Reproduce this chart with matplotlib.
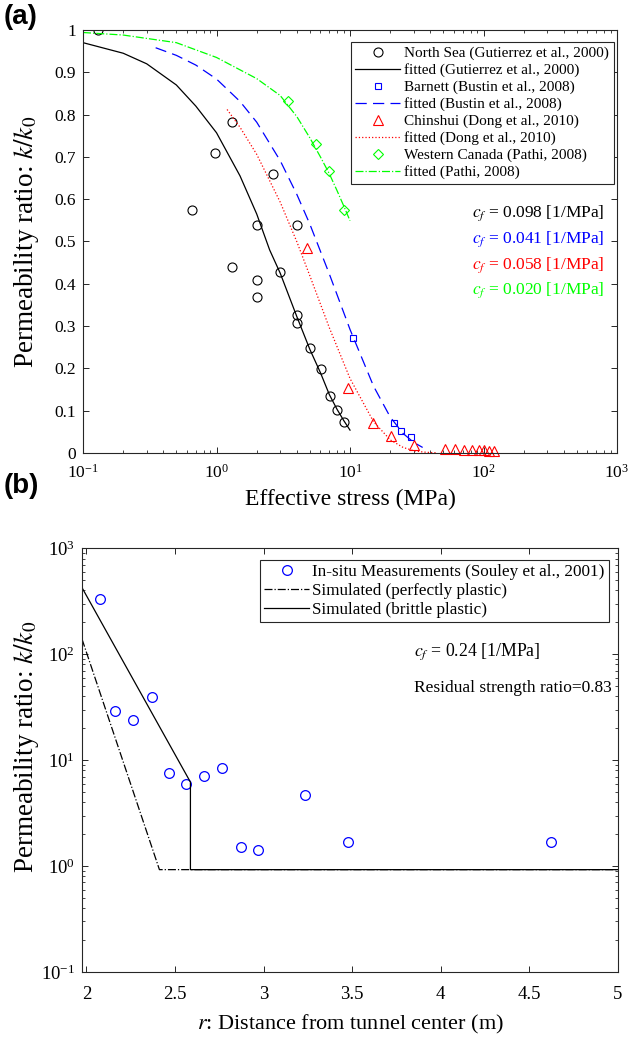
import matplotlib
matplotlib.use("Agg")
import matplotlib.pyplot as plt
from matplotlib.ticker import LogLocator, NullFormatter, FixedLocator

DPI = 100

# panel (a): permeability ratio vs effective stress
north_sea_x = [0.13, 0.65, 0.97, 1.3, 1.3, 2.0, 2.0, 2.0, 2.64, 3.0, 4.0, 4.03, 4.03, 5.05, 6.07, 7.1, 7.96, 9.08]
north_sea_y = [1.0, 0.575, 0.71, 0.782, 0.44, 0.54, 0.41, 0.368, 0.659, 0.428, 0.539, 0.325, 0.307, 0.249, 0.199, 0.135, 0.102, 0.074]
north_fit_x = [0.1, 0.2, 0.3, 0.5, 0.7, 1.0, 1.5, 2.0, 2.5, 3.0, 4.0, 5.0, 6.0, 7.0, 8.0, 9.0, 10.0]
north_fit_y = [0.97, 0.945, 0.92, 0.87, 0.82, 0.757, 0.655, 0.565, 0.48, 0.425, 0.322, 0.245, 0.19, 0.138, 0.103, 0.076, 0.054]

barnett_x = [10.6, 21.4, 24.2, 28.4]
barnett_y = [0.271, 0.072, 0.053, 0.037]
barnett_fit_x = [0.35, 0.5, 0.7, 1.0, 1.5, 2.0, 3.0, 4.0, 5.0, 7.0, 10.0, 15.0, 20.0, 25.0, 30.0, 35.0]
barnett_fit_y = [0.958, 0.94, 0.917, 0.884, 0.831, 0.782, 0.691, 0.611, 0.541, 0.423, 0.292, 0.158, 0.085, 0.046, 0.025, 0.013]

chinshui_x = [4.77, 9.7, 14.8, 20.2, 29.9, 51.7, 60.7, 71.0, 82.0, 92.0, 101.0, 109.0, 120.0]
chinshui_y = [0.485, 0.153, 0.072, 0.041, 0.019, 0.009, 0.009, 0.008, 0.008, 0.007, 0.006, 0.005, 0.005]
chinshui_fit_x = [1.2, 1.5, 2.0, 3.0, 4.0, 5.0, 7.0, 10.0, 15.0, 20.0, 25.0, 30.0, 35.0, 40.0, 45.0]
chinshui_fit_y = [0.812, 0.77, 0.706, 0.593, 0.499, 0.419, 0.296, 0.176, 0.074, 0.031, 0.013, 0.0054, 0.0023, 0.001, 0.0004]

canada_x = [3.45, 5.6, 6.94, 9.04]
canada_y = [0.831, 0.73, 0.667, 0.574]
canada_fit_x = [0.1, 0.2, 0.5, 1.0, 2.0, 3.0, 4.0, 5.0, 6.0, 7.0, 8.0, 9.0, 10.0]
canada_fit_y = [0.994, 0.988, 0.97, 0.935, 0.885, 0.845, 0.795, 0.745, 0.7, 0.66, 0.62, 0.583, 0.549]

cf_labels = ["0.098", "0.041", "0.058", "0.020"]
cf_colors = ["black", "blue", "red", "#00ff00"]

# panel (b): permeability ratio vs distance from tunnel
insitu_r = [2.075, 2.164, 2.265, 2.372, 2.468, 2.564, 2.666, 2.763, 2.870, 2.968, 3.231, 3.478, 4.621]
insitu_k = [332, 29.2, 24, 39.4, 7.6, 6.0, 7.1, 8.5, 1.51, 1.43, 4.73, 1.7, 1.7]
perfect_r = [1.975, 2.412, 5.0]
perfect_k = [139, 0.925, 0.925]
brittle_r = [1.975, 2.587, 2.587, 5.0]
brittle_k = [425, 6.2, 0.925, 0.925]

AX_COLOR = "#262626"


def style_axes(ax, tick_size, xpad):
    for spine in ax.spines.values():
        spine.set_color(AX_COLOR)
        spine.set_linewidth(0.8)
    ax.tick_params(which="both", direction="in", top=True, right=True,
                   color=AX_COLOR, labelsize=tick_size, pad=5)
    ax.tick_params(axis="x", which="both", pad=xpad)
    ax.tick_params(which="major", length=4.5, width=0.7)
    ax.tick_params(which="minor", length=2.3, width=0.6)


def draw_top(fig):
    ax = fig.add_axes([0.1295, 0.5632, 0.8331, 0.4079])
    ax.set_xscale("log")

    ax.plot(north_sea_x, north_sea_y, "o", mfc="none", mec="black", ms=6.5, mew=0.8,
            label="North Sea (Gutierrez et al., 2000)")
    ax.plot(north_fit_x, north_fit_y, "-", color="black", lw=0.9,
            label="fitted (Gutierrez et al., 2000)")
    ax.plot(barnett_x, barnett_y, "s", mfc="none", mec="blue", ms=5, mew=0.8,
            label="Barnett (Bustin et al., 2008)")
    ax.plot(barnett_fit_x, barnett_fit_y, color="blue", lw=0.9, dashes=(9, 5),
            label="fitted (Bustin et al., 2008)")
    ax.plot(chinshui_x, chinshui_y, "^", mfc="none", mec="red", ms=6.5, mew=0.8,
            clip_on=False, label="Chinshui (Dong et al., 2010)")
    ax.plot(chinshui_fit_x, chinshui_fit_y, ":", color="red", lw=0.9,
            label="fitted (Dong et al., 2010)")
    ax.plot(canada_x, canada_y, "D", mfc="none", mec="#00ff00", ms=5.5, mew=0.8,
            label="Western Canada (Pathi, 2008)")
    ax.plot(canada_fit_x, canada_fit_y, "-.", color="#00ff00", lw=0.9,
            label="fitted (Pathi, 2008)")

    ax.set_xlim(0.1, 1000)
    ax.set_ylim(0, 1)
    ax.yaxis.set_major_locator(FixedLocator([i / 10 for i in range(11)]))
    ax.set_yticklabels(["0"] + ["0.%d" % i for i in range(1, 10)] + ["1"])
    ax.xaxis.set_minor_locator(LogLocator(base=10, subs=range(2, 10), numticks=20))
    ax.xaxis.set_minor_formatter(NullFormatter())
    style_axes(ax, 12.5, 8)

    ax.set_xlabel("Effective stress (MPa)", fontsize=17, labelpad=5)
    ax.set_ylabel("Permeability ratio: $k/k_0$", fontsize=19.5)
    ax.yaxis.set_label_coords(-0.078, 0.5)

    leg = ax.legend(loc="upper right", bbox_to_anchor=(0.994, 0.972), borderaxespad=0,
                    fontsize=11, fancybox=False, framealpha=1, edgecolor=AX_COLOR,
                    labelspacing=0.2, handlelength=2.9, handletextpad=0.3,
                    borderpad=0.3)
    leg.get_frame().set_linewidth(0.8)

    for i, (val, col) in enumerate(zip(cf_labels, cf_colors)):
        ax.text(0.728, 0.567 - i * 0.061, r"$c_f$ = %s [1/MPa]" % val, color=col,
                fontsize=12.5, va="center", ha="left", transform=ax.transAxes)
    return ax


def draw_bottom(fig):
    ax = fig.add_axes([0.1279, 0.0627, 0.8362, 0.4086])
    ax.set_yscale("log")

    ax.plot(insitu_r, insitu_k, "o", mfc="none", mec="blue", ms=7, mew=0.9,
            label="In-situ Measurements (Souley et al., 2001)")
    ax.plot(perfect_r, perfect_k, "-.", color="black", lw=0.9,
            label="Simulated (perfectly plastic)")
    ax.plot(brittle_r, brittle_k, "-", color="black", lw=0.9,
            label="Simulated (brittle plastic)")

    ax.set_xlim(1.975, 5)
    ax.set_ylim(0.1, 1000)
    ax.set_xticks([2, 2.5, 3, 3.5, 4, 4.5, 5])
    ax.set_xticklabels(["2", "2.5", "3", "3.5", "4", "4.5", "5"])
    ax.yaxis.set_major_locator(LogLocator(base=10, numticks=10))
    ax.yaxis.set_minor_locator(LogLocator(base=10, subs=range(2, 10), numticks=20))
    ax.yaxis.set_minor_formatter(NullFormatter())
    style_axes(ax, 13.5, 10)

    ax.set_xlabel("$r$: Distance from tunnel center (m)", fontsize=16, labelpad=7)
    ax.set_ylabel("Permeability ratio: $k/k_0$", fontsize=19.5)
    ax.yaxis.set_label_coords(-0.077, 0.53)

    leg = ax.legend(loc="upper right", bbox_to_anchor=(0.983, 0.972), borderaxespad=0,
                    fontsize=12.3, fancybox=False, framealpha=1, edgecolor=AX_COLOR,
                    labelspacing=0.15, handlelength=2.6, handletextpad=0.2,
                    borderpad=0.25)
    leg.get_frame().set_linewidth(0.8)

    ax.text(0.62, 0.757, r"$c_f$ = 0.24 [1/MPa]", fontsize=12.8, va="center",
            transform=ax.transAxes)
    ax.text(0.62, 0.67, "Residual strength ratio=0.83", fontsize=12.5, va="center",
            transform=ax.transAxes)
    return ax


def main():
    plt.rcParams["font.family"] = ["Liberation Serif", "DejaVu Serif"]
    plt.rcParams["mathtext.fontset"] = "stix"

    fig = plt.figure(figsize=(6.41, 10.37), dpi=DPI)
    draw_top(fig)
    draw_bottom(fig)

    fig.text(0.006, 0.996, "(a)", fontsize=20, fontweight="bold", va="top",
             family="Liberation Sans")
    fig.text(0.006, 0.544, "(b)", fontsize=20, fontweight="bold", va="top",
             family="Liberation Sans")

    fig.savefig("out.png", dpi=DPI)


if __name__ == "__main__":
    main()
